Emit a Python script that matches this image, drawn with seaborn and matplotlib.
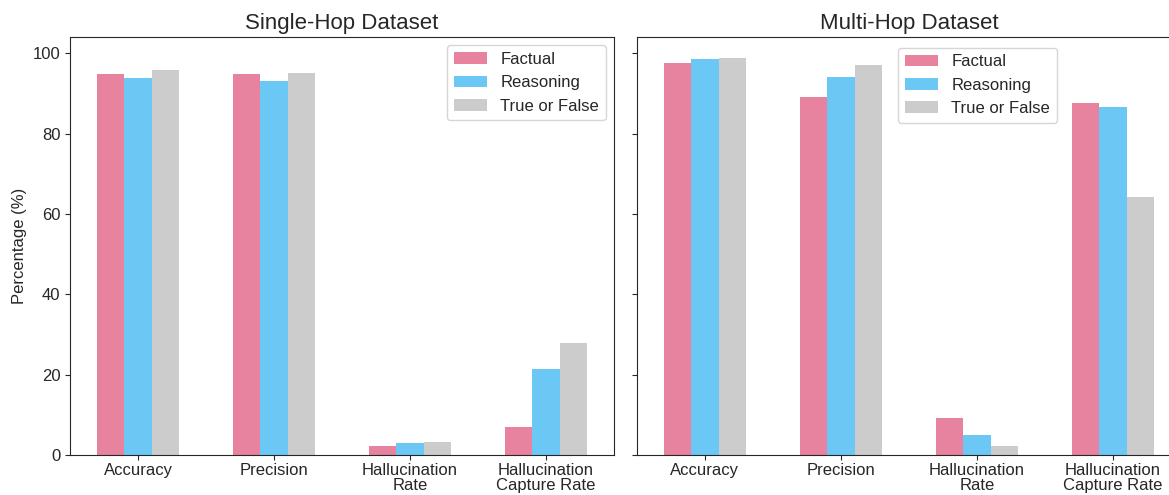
import matplotlib
matplotlib.use("Agg")
import matplotlib.pyplot as plt
import pandas as pd
import seaborn as sns

metrics = ["Accuracy", "Precision", "Hallucination\nRate", "Hallucination\nCapture Rate"]
question_types = ["Factual", "Reasoning", "True or False"]

single_factual = [94.9, 94.8, 2.2, 7.0]
single_reasoning = [93.8, 93.0, 2.9, 21.3]
single_tf = [95.7, 95.0, 3.2, 27.9]

multi_factual = [97.6, 89.0, 9.3, 87.5]
multi_reasoning = [98.5, 94.0, 5.1, 86.5]
multi_tf = [98.7, 97.1, 2.2, 64.3]

colors = ["#e8839f", "#6bc8f4", "#cccccc"]


def to_frame(factual, reasoning, tf):
    rows = []
    for qtype, vals in zip(question_types, [factual, reasoning, tf]):
        for m, v in zip(metrics, vals):
            rows.append({"Metric": m, "Type": qtype, "Value": v})
    return pd.DataFrame(rows)


def draw(ax, df, title):
    sns.barplot(data=df, x="Metric", y="Value", hue="Type", order=metrics,
                hue_order=question_types, palette=colors, width=0.6,
                saturation=1, linewidth=0, ax=ax, errorbar=None)
    ax.set_title(title, fontsize=16)
    ax.set_xlabel("")
    ax.set_xlim(-0.5, 3.5)
    ax.set_ylim(0, 104)
    ax.set_yticks([0, 20, 40, 60, 80, 100])
    ax.tick_params(axis="both", labelsize=12)
    ax.tick_params(axis="x", pad=2)
    for lbl in ax.get_xticklabels():
        lbl.set_linespacing(1.0)


def main():
    sns.set_style("ticks")
    plt.rcParams["font.family"] = ["Liberation Sans", "DejaVu Sans"]

    fig, axes = plt.subplots(1, 2, figsize=(11.69, 4.95), dpi=100, sharey=True)
    fig.subplots_adjust(left=0.0599, right=1.0103, top=0.925, bottom=0.0808, wspace=0.042)

    draw(axes[0], to_frame(single_factual, single_reasoning, single_tf), "Single-Hop Dataset")
    draw(axes[1], to_frame(multi_factual, multi_reasoning, multi_tf), "Multi-Hop Dataset")

    axes[0].set_ylabel("Percentage (%)", fontsize=12)
    axes[1].set_ylabel("")
    axes[1].tick_params(axis="y", labelleft=False)

    axes[0].legend(loc="upper right", fontsize=12, borderaxespad=0.5)
    axes[1].legend(loc="upper left", bbox_to_anchor=(0.48, 0.975), borderaxespad=0, fontsize=12)

    fig.savefig("out.png", dpi=100)


if __name__ == "__main__":
    main()
